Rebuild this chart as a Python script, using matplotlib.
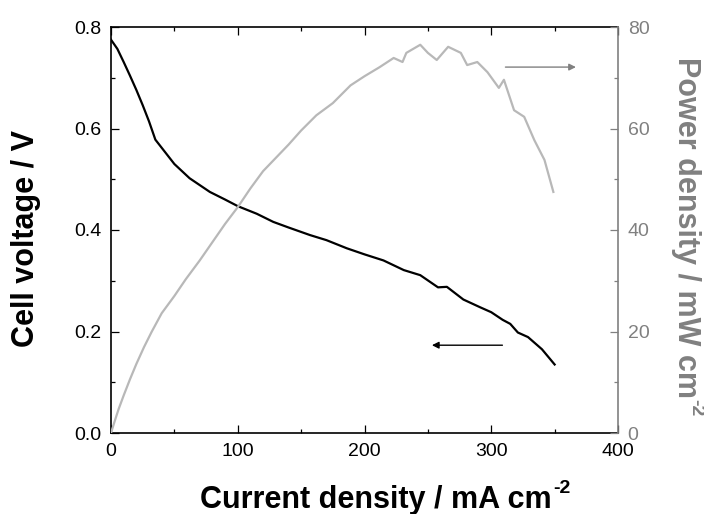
import numpy as np
import matplotlib.pyplot as plt

plt.rcParams['font.family'] = ['Liberation Sans', 'DejaVu Sans']

# polarisation curve (left axis)
i_v = [0, 5, 10, 15, 20, 25, 30, 35, 40, 50, 62, 78, 90, 100, 115, 128, 140, 157,
       170, 186, 200, 215, 231, 244, 258, 265, 278, 291, 300, 309, 315, 321, 329, 340, 350]
volt = [0.775, 0.757, 0.731, 0.704, 0.676, 0.646, 0.614, 0.578, 0.562, 0.530, 0.502,
        0.475, 0.460, 0.447, 0.432, 0.416, 0.405, 0.390, 0.380, 0.364, 0.352, 0.340,
        0.321, 0.311, 0.287, 0.288, 0.263, 0.248, 0.238, 0.223, 0.215, 0.198, 0.189,
        0.165, 0.135]

# power density curve (right axis)
i_p = [0, 3, 6, 10, 15, 20, 26, 32, 40, 50, 59, 70, 80, 90, 100, 110, 120, 130, 140,
       150, 162, 175, 189, 200, 212, 223, 230, 233, 244, 250, 257, 266, 276, 281, 289,
       297, 306, 310, 318, 326, 334, 342, 349]
power = [0, 2.4, 4.7, 7.4, 10.6, 13.6, 16.9, 19.9, 23.6, 27.0, 30.3, 34.0, 37.6, 41.2,
         44.5, 48.2, 51.6, 54.2, 56.8, 59.6, 62.6, 65.0, 68.5, 70.3, 72.1, 73.9, 73.1,
         74.9, 76.5, 74.9, 73.5, 76.1, 74.9, 72.5, 73.1, 71.1, 68.0, 69.6, 63.6, 62.3,
         57.7, 53.8, 47.5]

grey = '#808080'
W, H = 704, 514

fig = plt.figure(figsize=(W/100, H/100), dpi=100)
ax = fig.add_axes([111/W, 1-433/H, (618-111)/W, (433-27)/H])
ax.plot(i_v, volt, color='black', lw=1.6)
ax.set_xlim(0, 400)
ax.set_ylim(0, 0.8)
ax.set_xticks([0, 100, 200, 300, 400])
ax.set_xticks([50, 150, 250, 350], minor=True)
ax.set_yticks([0, 0.2, 0.4, 0.6, 0.8])
ax.set_yticks([0.1, 0.3, 0.5, 0.7], minor=True)
ax.set_yticklabels(['0.0', '0.2', '0.4', '0.6', '0.8'])
ax.tick_params(which='both', direction='in', top=True, right=False, labelsize=14, width=0.9)
ax.tick_params(which='major', length=5.8, pad=7)
ax.tick_params(which='minor', length=3)
ax.spines['right'].set_visible(False)
for s in ['left', 'top', 'bottom']:
    ax.spines[s].set_linewidth(1.2)
ax.set_xlabel('Current density / mA cm', fontsize=22, fontweight='bold', va='baseline')
ax.xaxis.set_label_coords(0.523, -0.185)
ax.set_ylabel('Cell voltage / V', fontsize=22, fontweight='bold', va='center')
ax.yaxis.set_label_coords(-0.168, 0.478)
ax.annotate('', xy=(251, 0.173), xytext=(311, 0.173),
            arrowprops=dict(arrowstyle='-|>', color='black', lw=1, mutation_scale=10))

ax2 = ax.twinx()
ax2.plot(i_p, power, color='#b8b8b8', lw=1.6)
ax2.set_ylim(0, 80)
ax2.set_yticks([0, 20, 40, 60, 80])
ax2.set_yticks([10, 30, 50, 70], minor=True)
ax2.tick_params(which='both', direction='in', colors=grey, labelsize=14, width=0.9)
ax2.tick_params(which='major', length=5.8, pad=7)
ax2.tick_params(which='minor', length=3)
for s in ['left', 'top', 'bottom']:
    ax2.spines[s].set_visible(False)
ax2.spines['right'].set_color(grey)
ax2.spines['right'].set_linewidth(1.2)
ax2.set_ylabel('Power density / mW cm', fontsize=22, fontweight='bold',
               color=grey, rotation=-90, va='center')
ax2.yaxis.set_label_coords(1.134, 0.505)
ax2.annotate('', xy=(369, 72.1), xytext=(309, 72.1),
             arrowprops=dict(arrowstyle='-|>', color=grey, lw=1, mutation_scale=10))

# small raised "-2" exponents after the unit labels
fig.canvas.draw()
r = fig.canvas.get_renderer()
bx = ax.xaxis.label.get_window_extent(r)
by = ax2.yaxis.label.get_window_extent(r)
fig.text((bx.x1 + 1) / W, (bx.y0 + 6.5 + 16) / H, '-2', fontsize=14, fontweight='bold',
         ha='left', va='baseline')
fig.text((by.x0 + 6.5 + 14) / W, (by.y0 - 1) / H, '-2', fontsize=14, fontweight='bold',
         color=grey, rotation=-90, rotation_mode='anchor', ha='left', va='baseline')

fig.savefig('out.png', dpi=100)
